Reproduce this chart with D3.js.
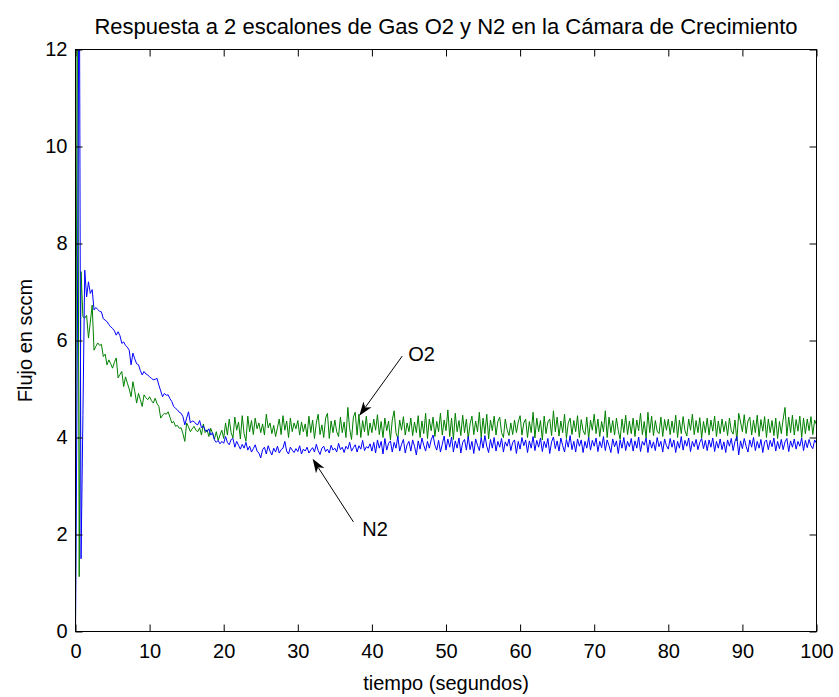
<!DOCTYPE html>
<html>
<head>
<meta charset="utf-8">
<script src="https://cdn.jsdelivr.net/npm/d3@7"></script>
<style>
  html, body { margin: 0; padding: 0; background: #fff; }
  svg text { font-family: "Liberation Sans", Arial, Helvetica, sans-serif; fill: #000; }
</style>
</head>
<body>
<svg id="chart" width="839" height="697"></svg>
<script>
// Flow readings sampled every SAMPLE_PERIOD seconds, from t = 0 to t = 100 s.
const SAMPLE_PERIOD = 0.25;

// O2 flow (sccm)
const o2 = [
  0,15,1.13,7.42,6.49,6.46,6.52,6.05,6.38,6.73,5.8,5.88,5.95,5.9,5.92,5.67,5.72,5.5,5.6,5.52,
  5.43,5.55,5.64,5.23,5.3,5.36,5.05,5.25,5.12,5.0,4.84,5.15,4.95,4.71,4.91,4.78,4.64,4.88,4.82,4.78,
  4.84,4.76,4.71,4.81,4.7,4.64,4.4,4.46,4.5,4.48,4.53,4.42,4.3,4.33,4.23,4.25,4.19,4.2,4.08,3.92,
  4.3,4.22,4.12,4.18,4.23,4.15,4.12,4.2,4.05,4.28,4.1,4.16,4.02,4.19,4.08,3.97,4.12,3.94,4.05,4.15,
  3.98,4.3,4.05,4.38,4.1,3.99,4.42,4.15,4.32,3.97,4.45,4.08,3.92,4.44,4.12,4.35,4.06,4.4,4.18,4.3,
  4.1,4.28,4.05,4.48,4.2,4.3,4.08,4.25,4.02,4.2,4.38,4.06,4.45,4.15,4.34,4.0,4.4,4.12,4.3,4.18,
  4.35,4.05,4.32,4.12,4.28,4.02,4.44,4.1,4.36,3.98,4.3,4.48,4.06,4.26,4.0,4.4,4.5,3.98,4.34,4.1,
  4.36,4.12,4.02,4.42,4.1,4.32,4.0,4.62,4.18,3.96,4.42,4.52,4.05,4.48,4.0,4.35,4.12,4.44,4.04,4.3,
  4.1,4.38,4.15,4.47,4.06,4.33,4.0,4.4,4.14,4.34,3.95,4.36,4.55,4.1,3.98,4.36,4.15,4.43,4.05,4.3,
  4.12,4.4,4.04,4.32,4.1,4.45,4.0,4.34,4.08,4.5,3.98,4.38,4.14,4.42,4.02,4.33,4.12,4.5,4.05,4.36,
  4.14,4.57,4.02,4.4,3.96,4.5,4.12,4.35,4.04,4.46,4.1,4.38,3.97,4.28,4.44,4.06,4.34,4.12,4.52,4.0,
  4.4,4.08,4.48,3.97,4.36,4.14,4.44,4.05,4.33,4.42,4.1,4.0,4.38,4.16,4.04,4.3,4.06,4.36,4.1,4.32,
  4.45,4.05,4.3,4.38,4.0,4.33,4.1,4.52,3.99,4.4,4.12,4.35,3.95,4.44,4.08,4.32,4.38,4.04,4.55,4.12,
  4.42,4.03,4.34,4.1,4.48,3.98,4.3,4.4,4.06,4.35,4.12,4.45,4.0,4.37,4.14,4.06,4.42,3.97,4.36,4.15,
  4.48,4.08,4.38,4.02,4.33,4.12,4.55,4.0,4.42,4.1,4.35,4.05,4.4,4.14,3.96,4.38,4.1,4.46,4.06,4.34,
  4.08,4.4,4.02,4.36,4.14,4.5,4.06,4.33,3.99,4.52,4.1,4.44,4.04,4.35,4.13,4.08,4.42,4.02,4.37,4.15,
  4.38,4.06,4.34,4.1,4.46,4.0,4.36,4.08,4.43,4.14,4.03,4.38,4.15,4.48,4.06,4.35,4.1,4.41,3.99,4.33,
  4.1,4.4,4.05,4.36,4.13,4.44,4.02,4.34,4.08,4.38,4.12,4.33,4.04,4.4,4.14,4.07,4.36,3.93,4.5,4.32,
  4.12,4.47,4.08,4.34,4.42,4.05,4.36,4.1,4.46,4.02,4.37,4.13,4.43,4.0,4.38,4.1,4.35,4.04,4.4,3.98,
  4.33,4.08,4.38,4.62,4.03,4.42,4.1,4.46,4.05,4.37,4.13,4.44,4.0,4.4,4.08,4.38,4.14,4.43,4.06,4.36,
  4.26
];

// N2 flow (sccm)
const n2 = [
  0,6,15,1.5,4.45,7.45,6.9,7.21,6.97,7.05,6.63,6.68,6.64,6.6,6.59,6.45,6.42,6.39,6.33,6.28,
  6.25,6.2,6.11,6.18,6.1,5.94,5.97,5.9,5.86,5.8,5.5,5.74,5.62,5.52,5.5,5.38,5.29,5.36,5.31,5.29,
  5.25,5.22,5.19,5.2,5.22,5.08,4.96,4.84,4.91,4.87,4.88,4.8,4.74,4.64,4.6,4.57,4.52,4.5,4.43,4.26,
  4.4,4.53,4.3,4.34,4.33,4.28,4.26,4.35,4.2,4.24,4.15,4.12,4.18,4.05,4.1,3.95,3.9,3.94,3.87,3.92,
  3.88,4.02,3.9,3.85,3.96,3.98,3.8,3.92,3.84,3.76,3.86,3.78,3.9,3.74,3.82,3.7,3.77,3.85,3.72,3.68,
  3.58,3.75,3.8,3.66,3.83,3.72,3.64,3.78,3.7,3.82,3.68,3.75,3.78,3.92,3.72,3.66,3.8,3.74,3.69,3.77,
  3.71,3.83,3.66,3.76,3.72,3.8,3.68,3.74,3.79,3.7,3.86,3.73,3.65,3.78,3.82,3.71,3.76,3.68,3.84,3.74,
  3.78,3.7,3.88,3.75,3.8,3.69,3.82,3.76,3.9,3.72,3.79,3.85,3.7,3.83,3.76,3.94,3.73,3.81,3.78,3.87,
  3.72,3.9,3.68,3.95,3.78,3.92,3.66,3.98,3.74,3.88,3.93,3.7,3.9,3.78,4.02,3.72,3.86,3.96,3.68,3.85,
  3.92,3.72,3.95,3.82,3.64,3.93,3.76,3.99,3.84,3.72,3.92,3.78,3.95,4.05,3.84,3.74,3.94,3.7,3.86,4.03,
  3.74,3.97,3.8,4.01,3.7,3.93,3.78,3.99,3.68,3.9,3.96,3.74,4.02,3.75,3.92,3.67,3.97,3.84,3.73,4.0,
  3.78,4.04,3.82,3.69,3.96,3.78,4.0,3.72,3.92,3.8,3.98,3.7,3.91,3.82,3.97,3.73,3.9,3.95,3.67,3.92,
  3.76,4.0,3.83,3.95,3.69,3.93,3.78,4.02,3.73,3.94,3.8,3.99,3.71,3.92,3.79,3.98,3.67,3.91,4.01,3.77,
  3.93,3.72,3.99,3.83,3.7,3.96,3.8,4.04,3.75,3.92,3.7,3.97,3.82,3.95,3.69,3.92,3.78,4.0,3.74,3.94,
  3.82,3.99,3.71,3.92,3.79,4.02,3.73,3.95,3.83,3.69,3.97,3.81,3.93,3.67,3.95,3.78,4.0,3.73,3.92,3.81,
  3.98,3.72,3.93,3.78,4.01,3.71,3.92,3.84,3.99,3.69,3.95,3.78,3.91,3.73,4.0,3.81,3.92,3.7,3.97,3.83,
  3.76,3.98,3.8,3.95,3.69,3.92,3.78,4.02,3.74,3.94,3.82,3.99,3.71,3.92,3.81,3.96,3.75,3.9,3.98,3.77,
  3.94,3.73,3.95,3.8,3.99,3.71,3.92,3.78,3.97,3.75,3.91,3.69,3.95,3.82,3.98,3.73,3.92,4.02,3.64,3.93,
  3.77,3.98,3.82,3.7,3.95,3.8,4.0,3.73,3.92,3.78,3.96,3.69,3.91,3.95,3.75,3.94,3.81,3.99,3.72,3.92,
  3.77,3.96,3.75,3.91,3.98,3.71,3.93,3.8,3.97,3.76,3.92,3.82,3.99,3.73,3.94,3.79,3.96,3.83,3.77,3.95,
  3.88
];

const xTicks = [0, 10, 20, 30, 40, 50, 60, 70, 80, 90, 100];
const yTicks = [0, 2, 4, 6, 8, 10, 12];

const titleText = "Respuesta a 2 escalones de Gas O2 y N2 en la Cámara de Crecimiento";
const xLabel = "tiempo (segundos)";
const yLabel = "Flujo en sccm";

// Arrow annotations, anchored in data coordinates (time s, flow sccm).
const notes = [
  { label: "O2", at: [44.9, 5.58], tail: [44.1, 5.68], tip: [38.3, 4.45] },
  { label: "N2", at: [38.7, 1.96], tail: [37.5, 2.26], tip: [32.0, 3.56] }
];

// ---- layout ----
const box = { left: 75.5, right: 816.5, top: 49.5, bottom: 631.5 };
const svg = d3.select("#chart");

const x = d3.scaleLinear().domain([0, 100]).range([box.left, box.right]);
const y = d3.scaleLinear().domain([0, 12]).range([box.bottom, box.top]);

svg.append("rect").attr("width", 839).attr("height", 697).attr("fill", "#fff");

svg.append("defs").append("clipPath").attr("id", "plotClip")
  .append("rect")
  .attr("x", box.left).attr("y", box.top)
  .attr("width", box.right - box.left).attr("height", box.bottom - box.top);

// ---- series ----
const line = d3.line()
  .x((d, i) => x(i * SAMPLE_PERIOD))
  .y(d => y(d));

const traces = svg.append("g").attr("clip-path", "url(#plotClip)");
traces.append("path").datum(o2)
  .attr("d", line).attr("fill", "none")
  .attr("stroke", "#008000").attr("stroke-width", 1).attr("stroke-linejoin", "round");
traces.append("path").datum(n2)
  .attr("d", line).attr("fill", "none")
  .attr("stroke", "#0000ff").attr("stroke-width", 1).attr("stroke-linejoin", "round");

// ---- axes (ticks point inward on all four sides) ----
const TICK = 7;
const fontSize = 20;

const gx = svg.append("g").attr("transform", `translate(0,${box.bottom})`)
  .call(d3.axisBottom(x).tickValues(xTicks).tickFormat(d3.format("d"))
    .tickSizeInner(-TICK).tickSizeOuter(0).tickPadding(12));
const gy = svg.append("g").attr("transform", `translate(${box.left},0)`)
  .call(d3.axisLeft(y).tickValues(yTicks).tickFormat(d3.format("d"))
    .tickSizeInner(-TICK).tickSizeOuter(0).tickPadding(8));
const gxt = svg.append("g").attr("transform", `translate(0,${box.top})`)
  .call(d3.axisTop(x).tickValues(xTicks).tickFormat("")
    .tickSizeInner(-TICK).tickSizeOuter(0));
const gyr = svg.append("g").attr("transform", `translate(${box.right},0)`)
  .call(d3.axisRight(y).tickValues(yTicks).tickFormat("")
    .tickSizeInner(-TICK).tickSizeOuter(0));

[gx, gy, gxt, gyr].forEach(g => {
  g.select(".domain").remove();
  g.selectAll(".tick line").attr("stroke", "#000").attr("stroke-width", 1);
  g.selectAll(".tick text").attr("font-size", fontSize)
    .style("font-family", '"Liberation Sans", Arial, Helvetica, sans-serif');
});

svg.append("rect")
  .attr("x", box.left).attr("y", box.top)
  .attr("width", box.right - box.left).attr("height", box.bottom - box.top)
  .attr("fill", "none").attr("stroke", "#000").attr("stroke-width", 1);

// ---- labels ----
svg.append("text")
  .attr("x", (box.left + box.right) / 2).attr("y", 34)
  .attr("text-anchor", "middle").attr("font-size", 22)
  .text(titleText);

svg.append("text")
  .attr("x", (box.left + box.right) / 2).attr("y", 690)
  .attr("text-anchor", "middle").attr("font-size", fontSize)
  .text(xLabel);

svg.append("text")
  .attr("transform", `translate(32,${(box.top + box.bottom) / 2}) rotate(-90)`)
  .attr("text-anchor", "middle").attr("font-size", fontSize)
  .text(yLabel);

// ---- arrow annotations ----
const HEAD_LEN = 14, HEAD_HALF = 5, NOTCH = 0.72;
const ann = svg.append("g");
notes.forEach(n => {
  const tx = x(n.tail[0]), ty = y(n.tail[1]);
  const px = x(n.tip[0]), py = y(n.tip[1]);
  const len = Math.hypot(px - tx, py - ty);
  const ux = (px - tx) / len, uy = (py - ty) / len;
  const nx = -uy, ny = ux;
  const bx = px - HEAD_LEN * ux, by = py - HEAD_LEN * uy;
  const mx = px - NOTCH * HEAD_LEN * ux, my = py - NOTCH * HEAD_LEN * uy;
  ann.append("line")
    .attr("x1", tx).attr("y1", ty).attr("x2", mx).attr("y2", my)
    .attr("stroke", "#000").attr("stroke-width", 1);
  ann.append("path")
    .attr("d", `M${px},${py}L${bx + HEAD_HALF * nx},${by + HEAD_HALF * ny}L${mx},${my}L${bx - HEAD_HALF * nx},${by - HEAD_HALF * ny}Z`)
    .attr("fill", "#000");
  ann.append("text")
    .attr("x", x(n.at[0])).attr("y", y(n.at[1]))
    .attr("font-size", fontSize)
    .text(n.label);
});
</script>
</body>
</html>
